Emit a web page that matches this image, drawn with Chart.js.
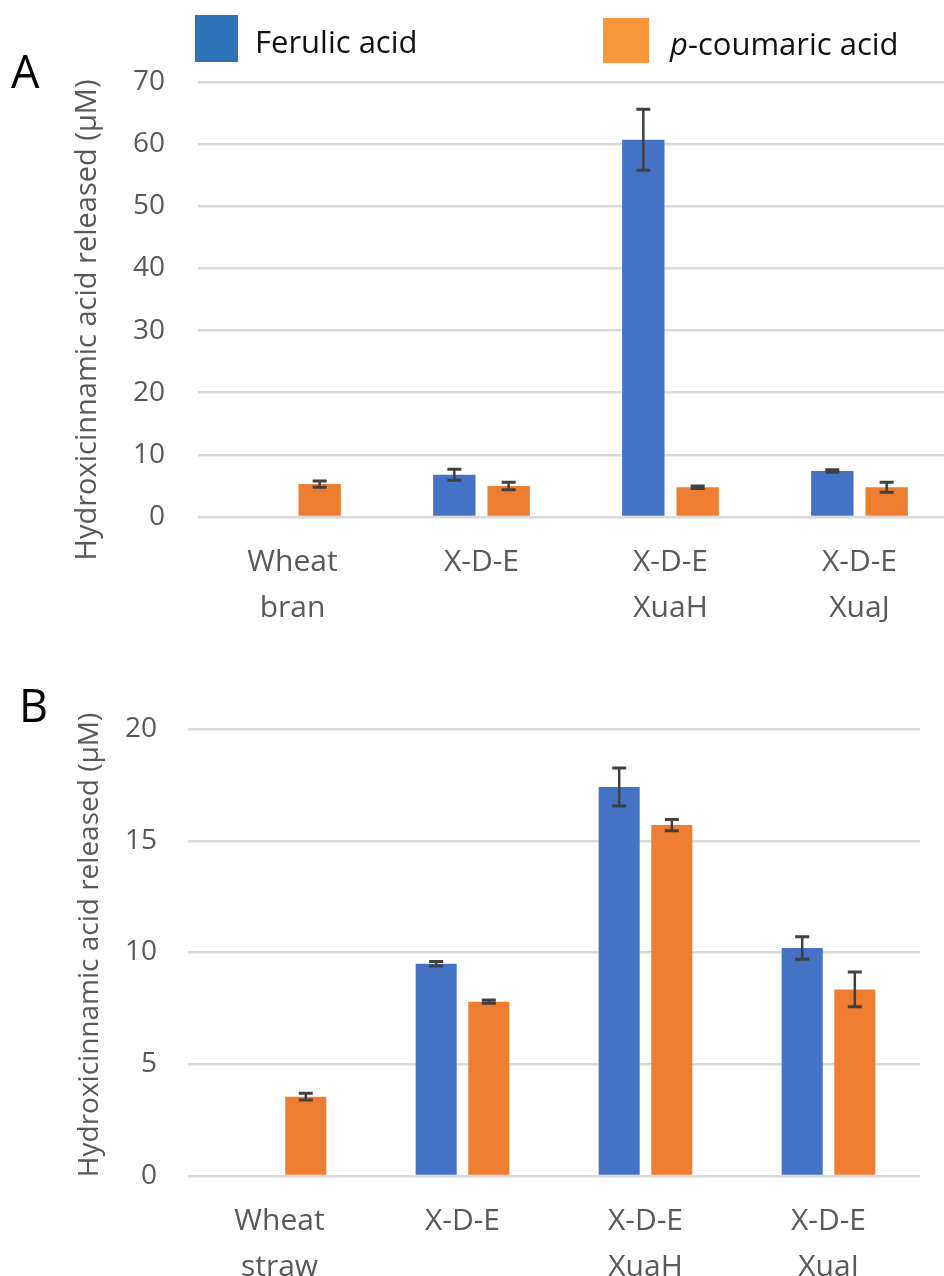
<!DOCTYPE html>
<html>
<head>
<meta charset="utf-8">
<script src="https://cdn.jsdelivr.net/npm/chart.js@4.4.0/dist/chart.umd.min.js"></script>
<style>
html, body { margin: 0; padding: 0; background: #fff; overflow: hidden; }
#page { position: relative; width: 944px; height: 1276px; overflow: hidden; background: #fff; }
.box { position: absolute; left: 0; width: 960px; }
#boxA { top: 0; height: 650px; }
#boxB { top: 660px; height: 616px; }
.panel { position: absolute; font-family: 'Open Sans', sans-serif; color: #000; line-height: 1; }
</style>
</head>
<body>
<div id="page">
    <div class="box" id="boxA"><canvas id="chartA" width="960" height="650"></canvas></div>
    <div class="box" id="boxB"><canvas id="chartB" width="960" height="616"></canvas></div>
    <div class="panel" style="left:11px; top:48px; font-size:45px;">A</div>
    <div class="panel" style="left:19px; top:682px; font-size:45px;">B</div>
</div>
<script>
// series names
var seriesNames = ['Ferulic acid', 'p-coumaric acid'];
var seriesItalic = ['', 'p'];
var axisTitle = 'Hydroxicinnamic acid released (\u00b5M)';

// panel A - wheat bran
var catsA = [['Wheat', 'bran'], 'X-D-E', ['X-D-E', 'XuaH'], ['X-D-E', 'XuaJ']];
var ferulicA = [null, 6.8, 60.7, 7.4];
var ferulicErrA = [0, 0.9, 4.9, 0.2];
var coumaricA = [5.3, 5.0, 4.8, 4.8];
var coumaricErrA = [0.5, 0.6, 0.2, 0.8];
var ticksA = [0, 10, 20, 30, 40, 50, 60, 70];

// panel B - wheat straw
var catsB = [['Wheat', 'straw'], 'X-D-E', ['X-D-E', 'XuaH'], ['X-D-E', 'XuaJ']];
var ferulicB = [null, 9.5, 17.4, 10.2];
var ferulicErrB = [0, 0.1, 0.85, 0.5];
var coumaricB = [3.55, 7.8, 15.7, 8.35];
var coumaricErrB = [0.15, 0.07, 0.25, 0.78];
var ticksB = [0, 5, 10, 15, 20];

var barBlue = '#4472c4';
var barOrange = '#ed7d31';
var legendColors = ['#2e73b8', '#f7963a'];
var textGrey = '#595959';
var fontFam = "'Open Sans', sans-serif";

Chart.defaults.font.family = fontFam;
Chart.defaults.color = textGrey;

// error bars drawn from the bar elements
var errorBarPlugin = {
    id: 'errorBars',
    afterDatasetsDraw: function (chart) {
        var ctx = chart.ctx;
        var yScale = chart.scales.y;
        chart.data.datasets.forEach(function (ds, i) {
            if (!ds.errorBars) return;
            var meta = chart.getDatasetMeta(i);
            meta.data.forEach(function (bar, j) {
                var v = ds.data[j];
                var e = ds.errorBars[j];
                if (v === null || !e) return;
                var yTop = yScale.getPixelForValue(v + e);
                var yBot = yScale.getPixelForValue(v - e);
                ctx.save();
                ctx.strokeStyle = '#404040';
                ctx.lineWidth = 2.5;
                ctx.beginPath();
                ctx.moveTo(bar.x, yTop);
                ctx.lineTo(bar.x, yBot);
                ctx.stroke();
                ctx.lineWidth = 3;
                ctx.beginPath();
                ctx.moveTo(bar.x - 7, yTop);
                ctx.lineTo(bar.x + 7, yTop);
                ctx.moveTo(bar.x - 7, yBot);
                ctx.lineTo(bar.x + 7, yBot);
                ctx.stroke();
                ctx.restore();
            });
        });
    }
};

// rotated y axis title at a fixed place
var sideTitlePlugin = {
    id: 'sideTitle',
    afterDraw: function (chart, args, opts) {
        if (!opts.text) return;
        var ctx = chart.ctx;
        ctx.save();
        ctx.translate(opts.x, opts.y);
        ctx.rotate(-Math.PI / 2);
        ctx.font = opts.size + 'px ' + fontFam;
        ctx.fillStyle = textGrey;
        ctx.textAlign = 'center';
        ctx.textBaseline = 'middle';
        ctx.fillText(opts.text, 0, 0);
        ctx.restore();
    }
};

// legend across the top of panel A
var topLegendPlugin = {
    id: 'topLegend',
    afterDraw: function (chart, args, opts) {
        if (!opts.items) return;
        var ctx = chart.ctx;
        ctx.save();
        opts.items.forEach(function (it, i) {
            ctx.fillStyle = legendColors[i];
            ctx.fillRect(it.x, it.y, it.w, it.h);
            var label = chart.data.datasets[i].label;
            var tx = it.tx;
            ctx.fillStyle = '#111';
            ctx.textBaseline = 'alphabetic';
            ctx.textAlign = 'left';
            var ital = seriesItalic[i];
            if (ital && label.indexOf(ital) === 0) {
                ctx.font = 'italic ' + opts.size + 'px ' + fontFam;
                ctx.fillText(ital, tx, it.base);
                tx += ctx.measureText(ital).width;
                label = label.substring(ital.length);
            }
            ctx.font = opts.size + 'px ' + fontFam;
            ctx.fillText(label, tx, it.base);
        });
        ctx.restore();
    }
};

function makeConfig(cats, fer, ferErr, cou, couErr, tickVals, axisW, axisH, pad, title) {
    return {
        type: 'bar',
        data: {
            labels: cats,
            datasets: [
                { label: seriesNames[0], data: fer, errorBars: ferErr, backgroundColor: barBlue,
                  categoryPercentage: 0.575, barPercentage: 0.78 },
                { label: seriesNames[1], data: cou, errorBars: couErr, backgroundColor: barOrange,
                  categoryPercentage: 0.575, barPercentage: 0.78 }
            ]
        },
        options: {
            responsive: false,
            animation: false,
            layout: { padding: pad },
            plugins: {
                legend: { display: false },
                tooltip: { enabled: false },
                sideTitle: title,
                topLegend: title.legend || {}
            },
            scales: {
                x: {
                    grid: { display: false },
                    border: { display: false },
                    ticks: { color: textGrey, font: { size: 30, lineHeight: 1.55 }, padding: 14,
                             autoSkip: false, maxRotation: 0 },
                    afterFit: function (s) { s.height = axisH; }
                },
                y: {
                    min: tickVals[0],
                    max: tickVals[tickVals.length - 1],
                    afterBuildTicks: function (s) {
                        s.ticks = tickVals.map(function (v) { return { value: v }; });
                    },
                    grid: { color: '#d9d9d9', lineWidth: 2.5, drawTicks: false },
                    border: { display: false },
                    ticks: { color: textGrey, font: { size: 28 }, padding: 33 },
                    afterFit: function (s) { s.width = axisW; }
                }
            }
        },
        plugins: [errorBarPlugin, sideTitlePlugin, topLegendPlugin]
    };
}

var cfgA = makeConfig(catsA, ferulicA, ferulicErrA, coumaricA, coumaricErrA, ticksA,
    198, 133, { top: 82, right: 6, left: 0, bottom: 0 },
    { text: axisTitle, x: 88, y: 320, size: 29,
      legend: { size: 31, items: [
          { x: 195, y: 15, w: 43, h: 47, tx: 255, base: 53 },
          { x: 603, y: 18, w: 46, h: 45, tx: 670, base: 55 }
      ] } });

var cfgB = makeConfig(catsB, ferulicB, ferulicErrB, coumaricB, coumaricErrB, ticksB,
    188, 100, { top: 69, right: 40, left: 0, bottom: 0 },
    { text: axisTitle, x: 90, y: 285, size: 28 });
cfgB.options.scales.y.ticks.padding = 31;

var chartA = new Chart(document.getElementById('chartA').getContext('2d'), cfgA);
var chartB = new Chart(document.getElementById('chartB').getContext('2d'), cfgB);
</script>
</body>
</html>
